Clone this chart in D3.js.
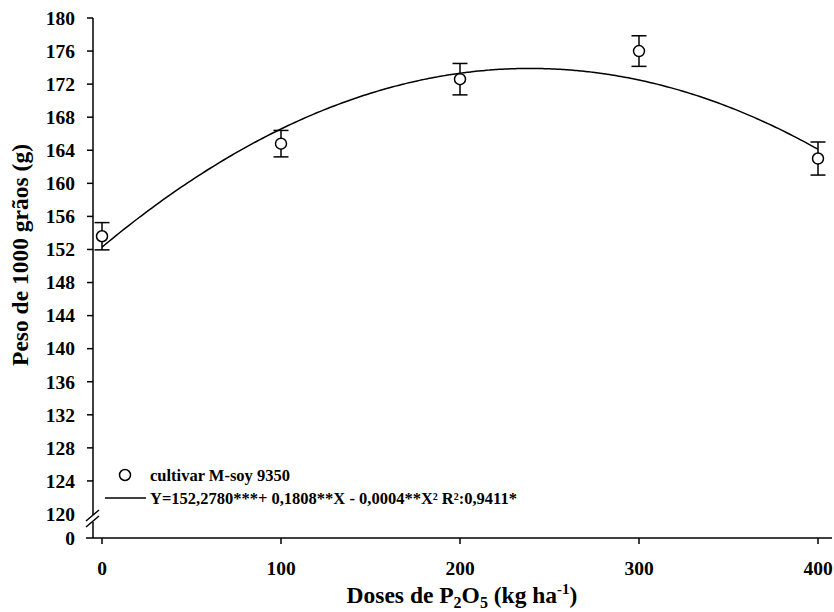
<!DOCTYPE html>
<html>
<head>
<meta charset="utf-8">
<script src="https://cdn.jsdelivr.net/npm/d3@7"></script>
<style>
    body { margin: 0; background: #fff; }
    svg text { font-family: "Liberation Serif", "Times New Roman", serif; font-weight: bold; fill: #000; }
</style>
</head>
<body>
<svg id="chart" width="834" height="612"></svg>
<script>
var doses = [0, 100, 200, 300, 400];
var peso = [153.6, 164.8, 172.6, 176.0, 163.0];
var pesoErr = [1.65, 1.6, 1.9, 1.85, 2.0];
var yTicks = [120, 124, 128, 132, 136, 140, 144, 148, 152, 156, 160, 164, 168, 172, 176, 180];
var xTicks = [0, 100, 200, 300, 400];
// fitted curve as drawn (Y = b0 + b1 X + b2 X^2)
var coefs = [152.278, 0.1808, -0.000378];
var legendLabels = ['cultivar M-soy 9350', 'Y=152,2780***+ 0,1808**X - 0,0004**X\u00b2 R\u00b2:0,9411*'];

var svg = d3.select('#chart');

var xScale = d3.scaleLinear().domain([0, 400]).range([102, 818]);
var yScale = d3.scaleLinear().domain([120, 180]).range([514, 18]);
var yZero = 538;

// y axis
var yAxis = svg.append('g').attr('transform', 'translate(93,0)');
yAxis.append('line').attr('x1', 0).attr('x2', 0)
    .attr('y1', yScale(180)).attr('y2', yScale(120) + 1)
    .attr('stroke', '#000').attr('stroke-width', 1.5);
yAxis.append('line').attr('x1', 0).attr('x2', 0)
    .attr('y1', yScale(120) + 8).attr('y2', yZero)
    .attr('stroke', '#000').attr('stroke-width', 1.5);
yAxis.selectAll('.tick').data(yTicks.filter(function(d) { return d > 120; }))
    .enter().append('line')
    .attr('x1', -6).attr('x2', 0)
    .attr('y1', function(d) { return yScale(d); })
    .attr('y2', function(d) { return yScale(d); })
    .attr('stroke', '#000').attr('stroke-width', 1.5);
yAxis.selectAll('.lbl').data(yTicks).enter().append('text')
    .attr('x', -18)
    .attr('y', function(d) { return yScale(d); })
    .attr('dy', '0.35em')
    .attr('text-anchor', 'end')
    .attr('font-size', 19.5)
    .text(function(d) { return d; });
yAxis.append('text').attr('x', -18).attr('y', yZero).attr('dy', '0.35em')
    .attr('text-anchor', 'end').attr('font-size', 19.5).text('0');

// break marks
[0, 6].forEach(function(off) {
    yAxis.append('line')
        .attr('x1', -7).attr('y1', yScale(120) + 7 + off)
        .attr('x2', 6).attr('y2', yScale(120) - 4 + off)
        .attr('stroke', '#000').attr('stroke-width', 1.5);
});

// x axis
var xAxis = svg.append('g').attr('transform', 'translate(0,' + yZero + ')');
xAxis.append('line').attr('x1', 86).attr('x2', 832).attr('y1', 0).attr('y2', 0)
    .attr('stroke', '#000').attr('stroke-width', 1.5);
xAxis.selectAll('.tick').data(xTicks).enter().append('line')
    .attr('x1', function(d) { return xScale(d); })
    .attr('x2', function(d) { return xScale(d); })
    .attr('y1', 0).attr('y2', 6)
    .attr('stroke', '#000').attr('stroke-width', 1.5);
xAxis.selectAll('.lbl').data(xTicks).enter().append('text')
    .attr('x', function(d) { return xScale(d); })
    .attr('y', 37)
    .attr('text-anchor', 'middle')
    .attr('font-size', 19.5)
    .text(function(d) { return d; });

// axis titles
var xTitle = svg.append('text').attr('x', 462).attr('y', 603)
    .attr('text-anchor', 'middle').attr('font-size', 23.5);
xTitle.append('tspan').text('Doses de P');
xTitle.append('tspan').attr('font-size', 16).attr('dy', 5).text('2');
xTitle.append('tspan').attr('dy', -5).text('O');
xTitle.append('tspan').attr('font-size', 16).attr('dy', 5).text('5');
xTitle.append('tspan').attr('dy', -5).text(' (kg ha');
xTitle.append('tspan').attr('font-size', 15).attr('dy', -9).text('-1');
xTitle.append('tspan').attr('dy', 9).text(')');

svg.append('text')
    .attr('transform', 'translate(28,255) rotate(-90)')
    .attr('text-anchor', 'middle')
    .attr('font-size', 23.5)
    .text('Peso de 1000 gr\u00e3os (g)');

// regression curve
var curveX = d3.range(0, 400.5, 2);
var line = d3.line()
    .x(function(d) { return xScale(d); })
    .y(function(d) { return yScale(coefs[0] + coefs[1] * d + coefs[2] * d * d); })
    .curve(d3.curveBasis);
svg.append('path').attr('d', line(curveX))
    .attr('fill', 'none').attr('stroke', '#000').attr('stroke-width', 1.5);

// error bars + points
var pts = svg.append('g');
doses.forEach(function(d, i) {
    var cx = xScale(d);
    var top = yScale(peso[i] + pesoErr[i]);
    var bot = yScale(peso[i] - pesoErr[i]);
    pts.append('line').attr('x1', cx).attr('x2', cx).attr('y1', top).attr('y2', bot)
        .attr('stroke', '#000').attr('stroke-width', 1.5);
    [top, bot].forEach(function(yy) {
        pts.append('line').attr('x1', cx - 7.5).attr('x2', cx + 7.5).attr('y1', yy).attr('y2', yy)
            .attr('stroke', '#000').attr('stroke-width', 1.5);
    });
    pts.append('circle').attr('cx', cx).attr('cy', yScale(peso[i])).attr('r', 5.5)
        .attr('fill', '#fff').attr('stroke', '#000').attr('stroke-width', 1.5);
});

// legend
var legend = svg.append('g');
legend.append('circle').attr('cx', 125).attr('cy', 475).attr('r', 5.5)
    .attr('fill', '#fff').attr('stroke', '#000').attr('stroke-width', 1.5);
legend.append('line').attr('x1', 105).attr('x2', 146).attr('y1', 498).attr('y2', 498)
    .attr('stroke', '#000').attr('stroke-width', 1.5);
legend.selectAll('text').data(legendLabels).enter().append('text')
    .attr('x', 150)
    .attr('y', function(d, i) { return 475 + i * 23; })
    .attr('dy', '0.35em')
    .attr('font-size', 16.5)
    .text(function(d) { return d; });
</script>
</body>
</html>
